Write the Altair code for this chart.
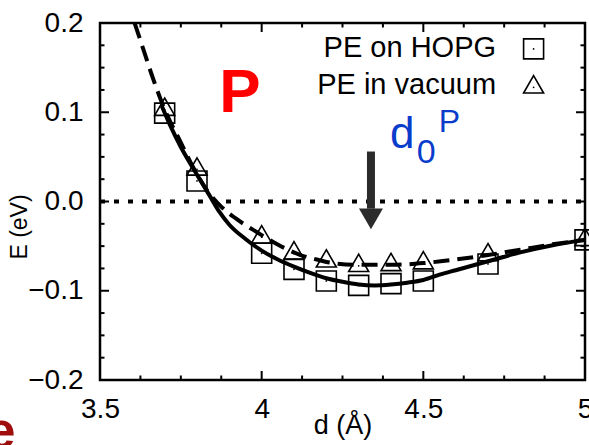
import altair as alt
import pandas as pd

# Binding energy E versus separation d for the P configuration
d_pts = [3.7, 3.8, 4.0, 4.1, 4.2, 4.3, 4.4, 4.5, 4.7, 5.0]
e_hopg = [0.099, 0.023, -0.058, -0.076, -0.089, -0.094, -0.092, -0.089, -0.070, -0.043]
e_vac = [0.103, 0.036, -0.040, -0.058, -0.067, -0.072, -0.071, -0.069, -0.060, -0.043]

# Fitted curves
fit_hopg_d = [3.69, 3.72, 3.75, 3.78, 3.81, 3.84, 3.87, 3.90, 3.95, 4.00, 4.05, 4.10, 4.15,
              4.20, 4.25, 4.30, 4.35, 4.40, 4.45, 4.50, 4.55, 4.60, 4.70, 4.80, 4.90, 5.00]
fit_hopg_e = [0.108, 0.083, 0.061, 0.042, 0.024, 0.006, -0.012, -0.026, -0.042, -0.055, -0.065,
              -0.073, -0.080, -0.086, -0.090, -0.093, -0.094, -0.093, -0.091, -0.088, -0.082,
              -0.077, -0.067, -0.057, -0.049, -0.043]
fit_vac_d = [3.607, 3.63, 3.66, 3.70, 3.75, 3.79, 3.83, 3.87, 3.92, 3.97, 4.02, 4.07, 4.12,
             4.17, 4.22, 4.30, 4.40, 4.50, 4.60, 4.70, 4.80, 4.90, 5.00]
fit_vac_e = [0.200, 0.175, 0.142, 0.103, 0.066, 0.037, 0.013, -0.004, -0.019, -0.031, -0.042,
             -0.052, -0.060, -0.065, -0.069, -0.071, -0.071, -0.069, -0.065, -0.060, -0.054,
             -0.048, -0.043]

# Axis ticks
x_major = [3.5, 4.0, 4.5, 5.0]
x_minor = [3.625, 3.75, 3.875, 4.125, 4.25, 4.375, 4.625, 4.75, 4.875]
y_major = [-0.2, -0.1, 0.0, 0.1, 0.2]
y_minor = [-0.175, -0.15, -0.125, -0.075, -0.05, -0.025, 0.025, 0.05, 0.075, 0.125, 0.15, 0.175]

# Legend entries
legend_labels = ["PE on HOPG", "PE in vacuum"]
legend_text_d = [4.725, 4.725]
legend_text_e = [0.162, 0.120]
legend_sym_d = [4.841, 4.841]
legend_sym_e = [0.171, 0.128]

# Equilibrium distance marker
arrow_d = 4.338
arrow_top = 0.056
arrow_base = -0.008
arrow_head_e = -0.0195

W, H = 485, 357
FONT = "Liberation Sans"
TRI = "M0,-1.155L1,0.577L-1,0.577Z"

xs = alt.Scale(domain=[3.5, 5.0], nice=False, zero=False)
ys = alt.Scale(domain=[-0.2, 0.2], nice=False, zero=False)

x_axis = alt.Axis(values=x_major, format="~g", ticks=False, tickSize=0, domain=False, grid=False,
                  labelFont=FONT, labelFontSize=28, labelColor="black", labelPadding=15,
                  labelFlush=False,
                  title="d (Å)", titleFont=FONT, titleFontSize=27, titleFontWeight="normal",
                  titleColor="black", titleBaseline="alphabetic", titleY=53)
y_axis = alt.Axis(values=y_major, format=".1f", ticks=False, tickSize=0, domain=False, grid=False,
                  labelFont=FONT, labelFontSize=28, labelColor="black", labelPadding=17,
                  labelFlush=False, title=None)

pts = pd.DataFrame({"d": d_pts, "hopg": e_hopg, "vac": e_vac})
fit_h = pd.DataFrame({"d": fit_hopg_d, "e": fit_hopg_e})
fit_v = pd.DataFrame({"d": fit_vac_d, "e": fit_vac_e})


def X(field):
    return alt.X(field, type="quantitative", scale=xs, axis=x_axis)


def Y(field):
    return alt.Y(field, type="quantitative", scale=ys, axis=y_axis)


# zero reference line
zero = alt.Chart(pd.DataFrame({"d": [3.5, 5.0], "e": [0.0, 0.0]})).mark_line(
    color="black", strokeWidth=4, strokeDash=[5, 9]
).encode(x=X("d"), y=Y("e"))


# inward ticks on all four sides
def tick_layer(vals, orient, length):
    df = pd.DataFrame({"v": vals})
    base = alt.Chart(df).mark_rule(color="black", strokeWidth=2)
    if orient == "bottom":
        return base.encode(x=X("v"), y=alt.value(H), y2=alt.value(H - length))
    if orient == "top":
        return base.encode(x=X("v"), y=alt.value(0), y2=alt.value(length))
    if orient == "left":
        return base.encode(y=Y("v"), x=alt.value(0), x2=alt.value(length))
    return base.encode(y=Y("v"), x=alt.value(W), x2=alt.value(W - length))


ticks = [tick_layer(x_major, o, 9) for o in ("bottom", "top")]
ticks += [tick_layer(x_minor, o, 4.5) for o in ("bottom", "top")]
ticks += [tick_layer(y_major, o, 9) for o in ("left", "right")]
ticks += [tick_layer(y_minor, o, 4.5) for o in ("left", "right")]

solid = alt.Chart(fit_h).mark_line(color="black", strokeWidth=4, interpolate="monotone").encode(
    x=X("d"), y=Y("e"), order="d:Q")
dashed = alt.Chart(fit_v).mark_line(color="black", strokeWidth=4, strokeDash=[16, 8],
                                    interpolate="monotone", clip=True).encode(
    x=X("d"), y=Y("e"), order="d:Q")

squares = alt.Chart(pts).mark_point(shape="square", size=400, filled=False, color="black",
                                    strokeWidth=1.6, opacity=1).encode(x=X("d"), y=Y("hopg"))
triangles = alt.Chart(pts).mark_point(shape=TRI, size=400, filled=False, color="black",
                                      strokeWidth=1.6, opacity=1).encode(x=X("d"), y=Y("vac"))
dots_h = alt.Chart(pts).mark_circle(size=3, color="black", opacity=1).encode(x=X("d"), y=Y("hopg"))
dots_v = alt.Chart(pts).mark_circle(size=3, color="black", opacity=1).encode(x=X("d"), y=Y("vac"))

# legend
leg = pd.DataFrame({"label": legend_labels, "td": legend_text_d, "te": legend_text_e,
                    "sd": legend_sym_d, "se": legend_sym_e})
leg_text = alt.Chart(leg).mark_text(font=FONT, fontSize=29, align="right", baseline="alphabetic",
                                    color="black").encode(x=X("td"), y=Y("te"), text="label:N")
leg_sq = alt.Chart(leg.iloc[[0]]).mark_point(shape="square", size=400, filled=False, color="black",
                                             strokeWidth=1.6, opacity=1).encode(x=X("sd"), y=Y("se"))
leg_tri = alt.Chart(leg.iloc[[1]]).mark_point(shape=TRI, size=400, filled=False, color="black",
                                              strokeWidth=1.6, opacity=1).encode(x=X("sd"), y=Y("se"))
leg_dots = alt.Chart(leg).mark_circle(size=3, color="black", opacity=1).encode(x=X("sd"), y=Y("se"))

# arrow pointing at the equilibrium distance
arrow_df = pd.DataFrame({"d": [arrow_d], "top": [arrow_top], "base": [arrow_base],
                         "head": [arrow_head_e]})
shaft = alt.Chart(arrow_df).mark_rule(color="#2b2b2b", strokeWidth=8).encode(
    x=X("d"), y=Y("top"), y2="base:Q")
head = alt.Chart(arrow_df).mark_point(shape="triangle-down", size=576, filled=True,
                                      color="#2b2b2b", opacity=1).encode(x=X("d"), y=Y("head"))


# labels
def label(text, d, e, size, color, weight="normal", align="left"):
    df = pd.DataFrame({"t": [text], "d": [d], "e": [e]})
    return alt.Chart(df).mark_text(font=FONT, fontSize=size, fontWeight=weight, color=color,
                                   align=align, baseline="alphabetic").encode(
        x=X("d"), y=Y("e"), text="t:N")


lab_P = label("P", 3.933, 0.100, 62, "#ff0000", weight="bold", align="center")
lab_d = label("d", 4.397, 0.060, 44, "#0a3ccc")
lab_0 = label("0", 4.480, 0.043, 34, "#0a3ccc")
lab_sup = label("P", 4.548, 0.078, 32, "#0a3ccc")
lab_e = label("e", 3.2387, -0.2762, 52, "#a00d0d", weight="bold", align="right")

# vertical axis title
y_title = alt.Chart(pd.DataFrame({"t": ["E (eV)"]})).mark_text(
    font=FONT, fontSize=23, color="black", angle=270, align="center", baseline="alphabetic"
).encode(x=alt.value(-73), y=alt.value(204), text="t:N")

chart = alt.layer(
    zero, *ticks, solid, dashed, squares, triangles, dots_h, dots_v,
    leg_text, leg_sq, leg_tri, leg_dots, shaft, head,
    lab_P, lab_d, lab_0, lab_sup, lab_e, y_title,
).properties(
    width=W, height=H,
    padding={"left": 100, "top": 23, "right": 4, "bottom": 65},
    autosize=alt.AutoSizeParams(type="none"),
    background="white",
).configure_view(
    stroke="black", strokeWidth=2.5
)

chart.save("out.html", embed_options={"renderer": "svg", "actions": False})
